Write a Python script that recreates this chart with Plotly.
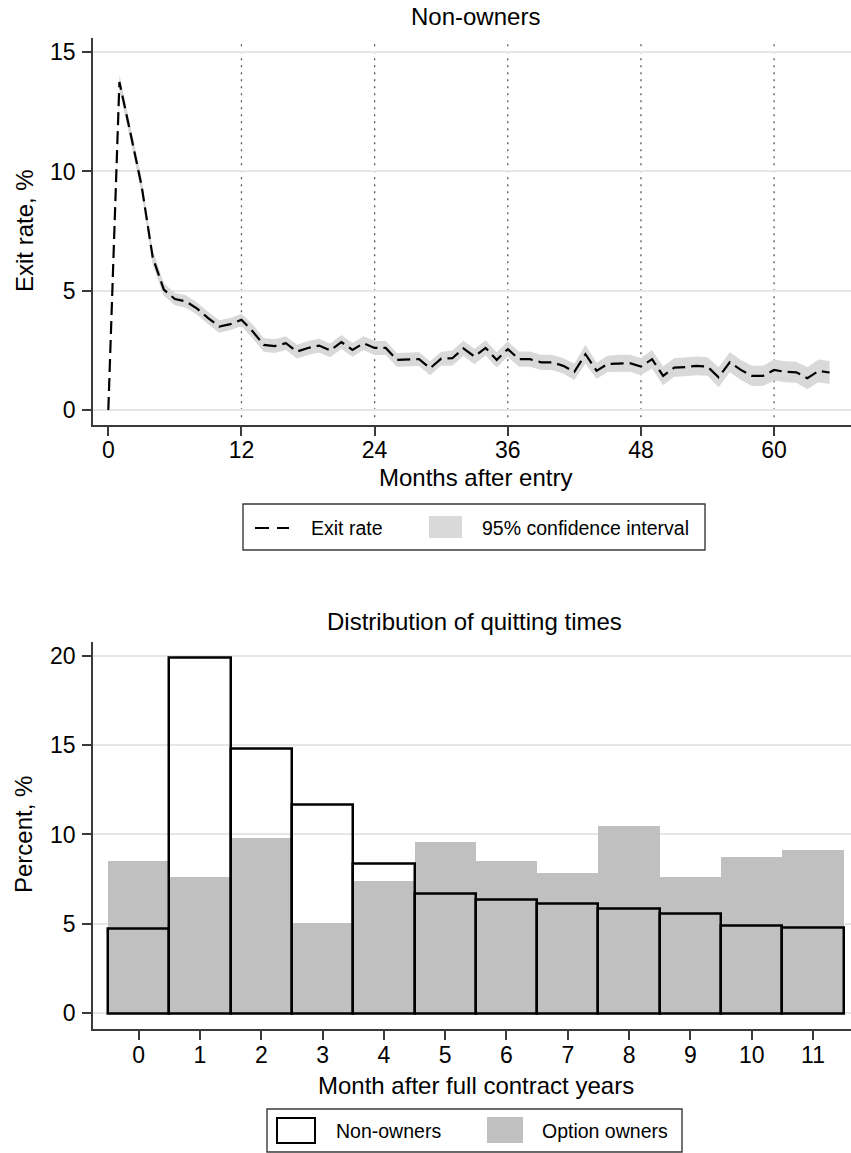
import plotly.graph_objects as go

# ---------------- data ----------------
months = list(range(0, 66))
exit_rate = [0.0, 13.75, 11.6, 9.4, 6.4, 5.05, 4.65, 4.55, 4.25, 3.85,
             3.5, 3.6, 3.78, 3.3, 2.73, 2.68, 2.8, 2.45, 2.6, 2.7,
             2.5, 2.85, 2.52, 2.8, 2.6, 2.6, 2.1, 2.1, 2.13, 1.75,
             2.15, 2.17, 2.58, 2.24, 2.6, 2.1, 2.55, 2.13, 2.13, 2.0,
             2.0, 1.85, 1.6, 2.34, 1.64, 1.93, 1.96, 1.96, 1.82, 2.13,
             1.43, 1.78, 1.8, 1.85, 1.82, 1.37, 2.0, 1.68, 1.43, 1.43,
             1.68, 1.6, 1.58, 1.33, 1.64, 1.57]
ci_half = [0.0, 0.32, 0.32, 0.32, 0.32, 0.26, 0.26, 0.26, 0.26, 0.26,
           0.26, 0.26, 0.26, 0.29, 0.29, 0.29, 0.29, 0.29, 0.29, 0.29,
           0.29, 0.29, 0.29, 0.29, 0.29, 0.29, 0.29, 0.29, 0.29, 0.29,
           0.29, 0.32, 0.32, 0.32, 0.32, 0.32, 0.32, 0.32, 0.32, 0.32,
           0.32, 0.32, 0.34, 0.39, 0.34, 0.34, 0.36, 0.36, 0.36, 0.39,
           0.39, 0.39, 0.39, 0.39, 0.39, 0.42, 0.42, 0.42, 0.42, 0.42,
           0.44, 0.44, 0.44, 0.46, 0.48, 0.48]
ref_months = [12, 24, 36, 48, 60]
top_xticks = [0, 12, 24, 36, 48, 60]
top_yticks = [0, 5, 10, 15]

month_cats = list(range(0, 12))
non_owners = [4.72, 19.9, 14.82, 11.69, 8.35, 6.71, 6.34, 6.15, 5.83, 5.55, 4.92, 4.79]
option_owners = [8.52, 7.64, 9.82, 5.05, 7.42, 9.6, 8.52, 7.87, 10.48, 7.66, 8.74, 9.17]
bottom_yticks = [0, 5, 10, 15, 20]

ci_lower = [r - h for r, h in zip(exit_rate, ci_half)]
ci_upper = [r + h for r, h in zip(exit_rate, ci_half)]

# ---------------- helpers ----------------
W, H = 851, 1153
FONT = "Liberation Sans, Arial, Helvetica, sans-serif"
AXC = "#3a3a3a"
GRID = "#e6e6e6"


def px(x):
    return x / W


def py(y):
    return 1 - y / H


fig = go.Figure()

# CI band
fig.add_trace(go.Scatter(x=months, y=ci_lower, mode="lines", line=dict(width=0),
                         hoverinfo="skip", showlegend=False, xaxis="x", yaxis="y"))
fig.add_trace(go.Scatter(x=months, y=ci_upper, mode="lines", line=dict(width=0),
                         fill="tonexty", fillcolor="#d9d9d9",
                         name="95% confidence interval", showlegend=False,
                         xaxis="x", yaxis="y"))
# exit rate line
fig.add_trace(go.Scatter(x=months, y=exit_rate, mode="lines",
                         line=dict(color="black", width=2.2, dash="13px,6px"),
                         name="Exit rate", showlegend=False, xaxis="x", yaxis="y"))

# bars
fig.add_trace(go.Bar(x=month_cats, y=option_owners, width=1,
                     marker=dict(color="#c0c0c0", line=dict(width=0)),
                     name="Option owners", showlegend=False, xaxis="x2", yaxis="y2"))
fig.add_trace(go.Bar(x=month_cats, y=non_owners, width=1,
                     marker=dict(color="rgba(0,0,0,0)", line=dict(color="black", width=2.5)),
                     name="Non-owners", showlegend=False, xaxis="x2", yaxis="y2"))

axis_common = dict(showline=True, linecolor=AXC, linewidth=1.6, ticks="outside",
                   ticklen=9, tickwidth=1.6, tickcolor=AXC, zeroline=False,
                   tickfont=dict(size=23, color="black", family=FONT), mirror=False)

fig.update_layout(
    width=W, height=H, margin=dict(l=0, r=0, t=0, b=0),
    paper_bgcolor="white", plot_bgcolor="white",
    barmode="overlay", bargap=0,
    font=dict(family=FONT, color="black"),
    showlegend=False,
    xaxis=dict(domain=[px(93), 1.0], range=[-1.38, 66.93], tickvals=top_xticks,
               showgrid=False, anchor="y", ticklabelstandoff=-5, **axis_common),
    yaxis=dict(domain=[py(425), py(37.7)], range=[-0.63, 15.61], tickvals=top_yticks,
               showgrid=True, gridcolor=GRID, gridwidth=2, anchor="x",
               ticklabelstandoff=2, **axis_common),
    xaxis2=dict(domain=[px(93), 1.0], range=[-0.745, 11.62], tickvals=month_cats,
                showgrid=False, anchor="y2", ticklabelstandoff=-5, **axis_common),
    yaxis2=dict(domain=[py(1029.3), py(641.7)], range=[-0.895, 20.78], tickvals=bottom_yticks,
                showgrid=True, gridcolor=GRID, gridwidth=2, anchor="x2",
                ticklabelstandoff=2, **axis_common),
)

shapes = []
for m in ref_months:
    shapes.append(dict(type="line", xref="x", yref="y domain", x0=m, x1=m, y0=0.02, y1=0.99,
                       line=dict(color="#555555", width=1.3, dash="2px,5px"), layer="below"))

# ----- manual legends -----
# top legend
shapes.append(dict(type="rect", xref="paper", yref="paper",
                   x0=px(243), x1=px(705), y0=py(550), y1=py(504),
                   line=dict(color=AXC, width=1.4), fillcolor="white"))
shapes.append(dict(type="line", xref="paper", yref="paper",
                   x0=px(255), x1=px(289), y0=py(528), y1=py(528),
                   line=dict(color="black", width=2.2, dash="14px,8px")))
shapes.append(dict(type="rect", xref="paper", yref="paper",
                   x0=px(429), x1=px(462), y0=py(538), y1=py(516),
                   line=dict(width=0), fillcolor="#d9d9d9"))
# bottom legend
shapes.append(dict(type="rect", xref="paper", yref="paper",
                   x0=px(267), x1=px(682), y0=py(1152), y1=py(1109),
                   line=dict(color=AXC, width=1.4), fillcolor="white"))
shapes.append(dict(type="rect", xref="paper", yref="paper",
                   x0=px(277), x1=px(315), y0=py(1143), y1=py(1118),
                   line=dict(color="black", width=2), fillcolor="white"))
shapes.append(dict(type="rect", xref="paper", yref="paper",
                   x0=px(487), x1=px(523), y0=py(1143), y1=py(1117),
                   line=dict(width=0), fillcolor="#c0c0c0"))

annotations = [
    dict(text="Non-owners", x=px(475), y=py(17), xref="paper", yref="paper",
         showarrow=False, font=dict(size=24), xanchor="center", yanchor="middle"),
    dict(text="Exit rate, %", x=px(24), y=py(231), xref="paper", yref="paper",
         showarrow=False, font=dict(size=24), textangle=-90, xanchor="center", yanchor="middle"),
    dict(text="Months after entry", x=px(476), y=py(478), xref="paper", yref="paper",
         showarrow=False, font=dict(size=24), xanchor="center", yanchor="middle"),
    dict(text="Exit rate", x=px(309), y=py(528), xref="paper", yref="paper",
         showarrow=False, font=dict(size=19.5), xanchor="left", yanchor="middle"),
    dict(text="95% confidence interval", x=px(480), y=py(528), xref="paper", yref="paper",
         showarrow=False, font=dict(size=19.5), xanchor="left", yanchor="middle"),
    dict(text="Distribution of quitting times", x=px(474), y=py(621), xref="paper", yref="paper",
         showarrow=False, font=dict(size=24), xanchor="center", yanchor="middle"),
    dict(text="Percent, %", x=px(24), y=py(835), xref="paper", yref="paper",
         showarrow=False, font=dict(size=24), textangle=-90, xanchor="center", yanchor="middle"),
    dict(text="Month after full contract years", x=px(476), y=py(1085), xref="paper", yref="paper",
         showarrow=False, font=dict(size=24), xanchor="center", yanchor="middle"),
    dict(text="Non-owners", x=px(334), y=py(1131), xref="paper", yref="paper",
         showarrow=False, font=dict(size=19.5), xanchor="left", yanchor="middle"),
    dict(text="Option owners", x=px(540), y=py(1131), xref="paper", yref="paper",
         showarrow=False, font=dict(size=19.5), xanchor="left", yanchor="middle"),
]

fig.update_layout(shapes=shapes, annotations=annotations)
fig.write_html("out.html")
